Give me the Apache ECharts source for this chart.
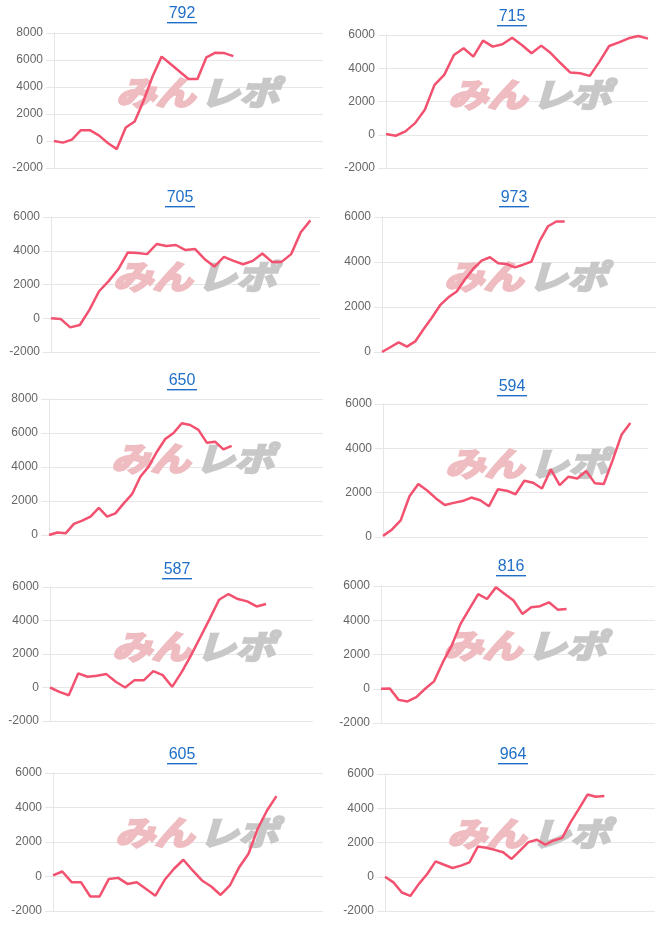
<!DOCTYPE html>
<html><head><meta charset="utf-8">
<script src="https://cdn.jsdelivr.net/npm/echarts@6/dist/echarts.min.js"></script>
<style>html,body{margin:0;padding:0;background:#fff}#c{width:666px;height:926px}</style>
</head><body><div id="c"></div>
<script>
// ---- data ----
const titles = ['792','715','705','973','650','594','587','816','605','964'];
const s792 = [0,-120,100,800,800,420,-150,-600,1000,1450,3000,4800,6250,5700,5150,4590,4600,6200,6540,6510,6290];
const s715 = [40,-60,200,700,1500,3000,3600,4800,5200,4700,5660,5300,5440,5840,5400,4900,5360,4900,4300,3740,3700,3540,4400,5340,5560,5800,5940,5780];
const s705 = [0,-40,-540,-400,500,1600,2200,2900,3900,3860,3800,4400,4280,4340,4040,4100,3500,3060,3640,3400,3200,3400,3840,3340,3340,3800,5100,5800];
const s973 = [0,210,430,240,470,1010,1520,2080,2430,2690,3230,3700,4060,4210,3940,3910,3760,3880,4020,4940,5590,5800,5800];
const s650 = [0,150,100,650,850,1080,1600,1080,1270,1860,2400,3430,4020,4900,5650,6000,6570,6470,6180,5430,5490,5040,5240];
const s594 = [50,330,750,1840,2390,2100,1740,1440,1540,1620,1780,1660,1390,2150,2090,1930,2540,2450,2190,3050,2340,2720,2640,2980,2420,2390,3470,4610,5140];
const s587 = [0,-260,-460,840,640,700,800,340,0,440,440,980,740,40,900,1900,3000,4100,5240,5580,5280,5140,4840,4980];
const s816 = [0,20,-650,-740,-490,0,430,1550,2520,3790,4660,5530,5240,5920,5530,5150,4370,4760,4820,5050,4620,4660];
const s605 = [60,290,-330,-330,-1160,-1160,-140,-80,-430,-330,-720,-1110,-190,450,970,350,-230,-580,-1070,-520,540,1320,2780,3840,4660];
const s964 = [0,-330,-920,-1120,-430,160,900,700,510,650,840,1760,1690,1570,1430,1040,1530,2020,2160,1880,2120,2270,3190,3980,4800,4670,4710];
const seriesData = [s792,s715,s705,s973,s650,s594,s587,s816,s605,s964];
const yMin = [-2000,-2000,-2000,0,0,0,-2000,-2000,-2000,-2000];
const yMax = [8000,6000,6000,6000,8000,6000,6000,6000,6000,6000];
const yStep = 2000;
const xCounts = [31,28,29,34,34,31,29,32,30,33];

// ---- layout (pixels) ----
const boxes = [
  [54,33,269,135],[386,35,262,133],
  [51,217,269,135],[382,217,274,135],
  [49,399,274,136],[383,404,265,133],
  [50,587,263,134],[381,586,274,137],
  [53,773,270,138],[385,774,270,137]
];
const titlePos = [[182,14],[512,17],[180,198],[514,198],[182,381],[512,387],[177,570],[511,567],[182,755],[513,755]];

const grid=[], xAxis=[], yAxis=[], series=[], graphic=[];
const gridColor = '#e6e6e6';
const wmFont = 'italic bold 33px "Noto Sans CJK JP", sans-serif';
for (let i=0;i<10;i++){
  const b = boxes[i];
  grid.push({left:b[0], top:b[1], width:b[2], height:b[3], containLabel:false});
  const cats = Array.from({length:xCounts[i]}, (_,k)=>String(k+1));
  xAxis.push({type:'category', gridIndex:i, data:cats, boundaryGap:false,
    axisLine:{show:false}, axisTick:{show:false}, axisLabel:{show:false}, splitLine:{show:false}});
  yAxis.push({type:'value', gridIndex:i, min:yMin[i], max:yMax[i], interval:yStep,
    axisLine:{show:true, lineStyle:{color:gridColor, width:1}},
    axisTick:{show:true, length:8, lineStyle:{color:gridColor, width:1}},
    axisLabel:{color:'#666', fontSize:12, margin:11, fontFamily:'"Liberation Sans", Arial, sans-serif',
      formatter: v => String(v)},
    splitLine:{show:true, lineStyle:{color:gridColor, width:1}}});
  series.push({type:'line', xAxisIndex:i, yAxisIndex:i, data:seriesData[i], symbol:'none', showSymbol:false,
    lineStyle:{color:'#f2526f', width:2.5}, z:5, silent:true});
  // title
  const tp = titlePos[i];
  graphic.push({type:'text', x:tp[0], y:tp[1], z:10, style:{text:titles[i], fill:'#1f6fc8',
    font:'16px "Liberation Sans", Arial, sans-serif', align:'center', verticalAlign:'middle'}});
  graphic.push({type:'rect', shape:{x:tp[0]-15, y:tp[1]+8, width:30, height:1.4}, z:10, style:{fill:'#1f6fc8'}});
  // watermark
  const wx = b[0]+62, wy = b[1]+59;
  graphic.push({type:'text', x:wx, y:wy, scaleX:1.2, z:1, style:{text:'みん', fill:'#eebcc1', stroke:'#eebcc1', lineWidth:2.5,
    font:wmFont, verticalAlign:'middle'}});
  graphic.push({type:'text', x:wx+84, y:wy, scaleX:1.2, z:1, style:{text:'レポ', fill:'#c8c8c8', stroke:'#c8c8c8', lineWidth:2.5,
    font:wmFont, verticalAlign:'middle'}});
}

const chart = echarts.init(document.getElementById('c'), null, {renderer:'canvas'});
chart.setOption({animation:false, backgroundColor:'#fff', grid, xAxis, yAxis, series, graphic});
</script></body></html>
